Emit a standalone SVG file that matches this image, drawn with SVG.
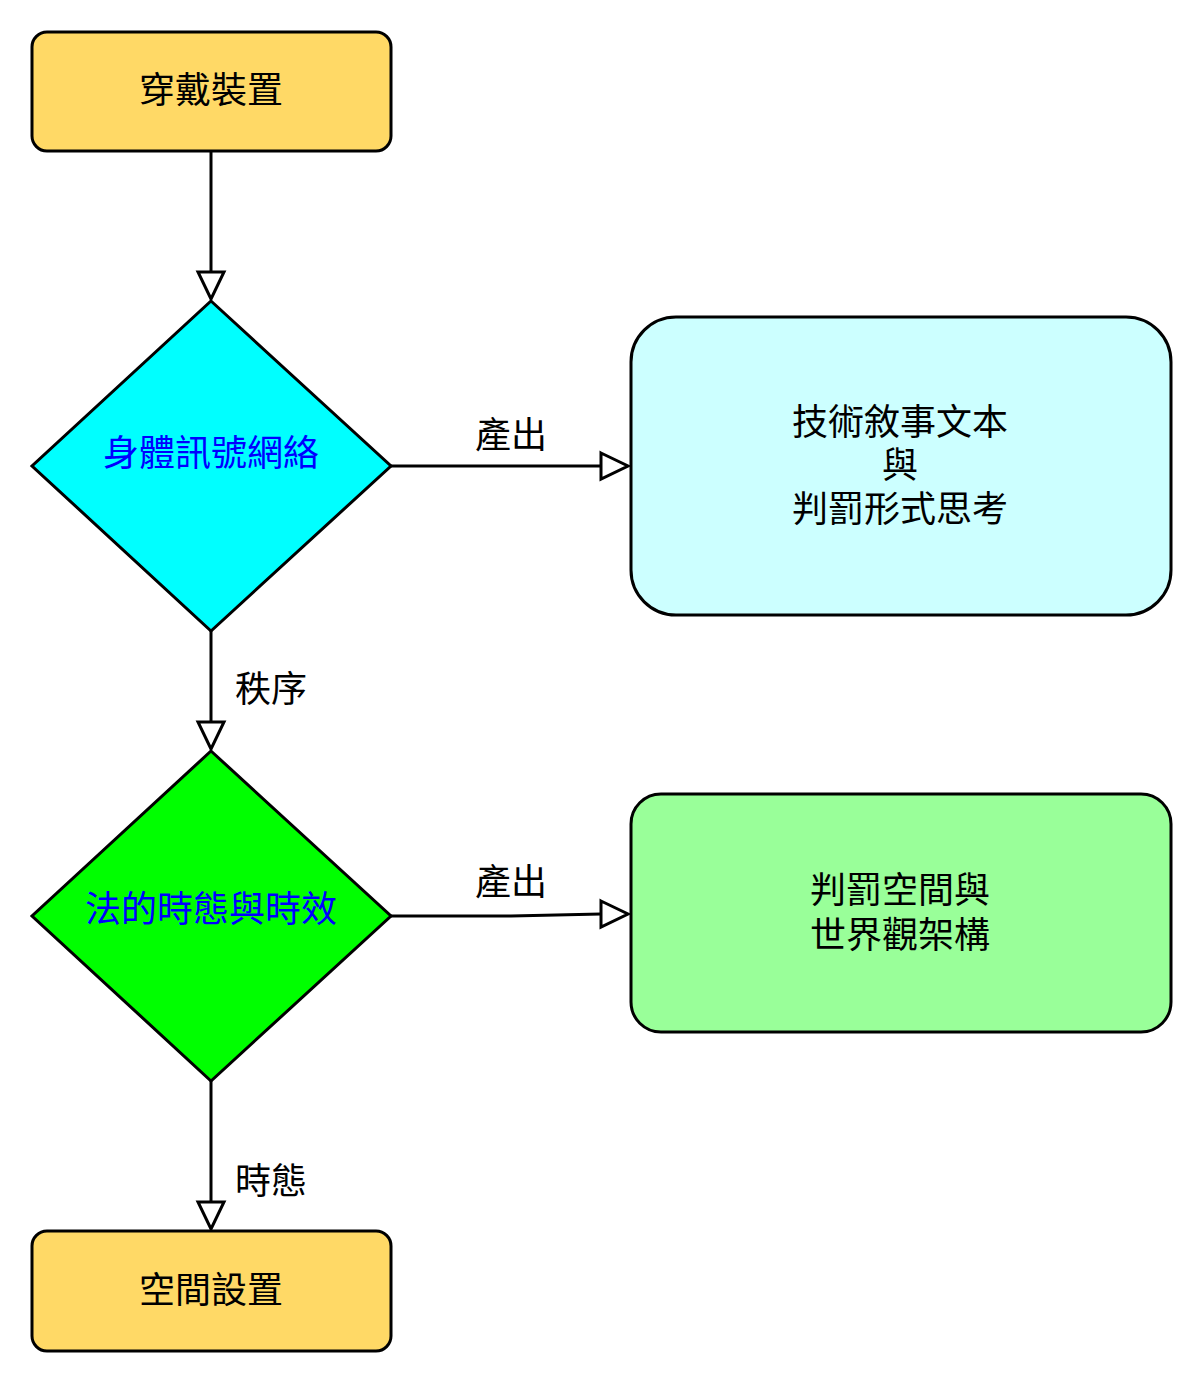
<svg xmlns="http://www.w3.org/2000/svg" width="1203" height="1383" viewBox="0 0 1203 1383">
<style>
text{font-family:"Noto Sans CJK TC","Noto Sans CJK SC",sans-serif;font-size:36px;text-anchor:middle;dominant-baseline:central;fill:#000}
.node{stroke:#000;stroke-width:3}
.dtext{fill:#0000FF}
.edge{fill:none;stroke:#000;stroke-width:3}
.head{fill:#fff;stroke:#000;stroke-width:3;stroke-linejoin:miter}
</style>
<rect width="1203" height="1383" fill="#fff"/>
<g id="edges">
<path class="edge" d="M211,151 V272"/>
<path class="head" d="M198,272 L224,272 L211,299 Z"/>
<path class="edge" d="M391,466 H601"/>
<path class="head" d="M601,453 L628,466 L601,479 Z"/>
<text x="511" y="432">產出</text>
<path class="edge" d="M211,631 V722"/>
<path class="head" d="M198,722 L224,722 L211,749 Z"/>
<text x="271" y="686">秩序</text>
<path class="edge" d="M391,916 H511 L601,914"/>
<path class="head" d="M601,901 L628,914 L601,927 Z"/>
<text x="511" y="879">產出</text>
<path class="edge" d="M211,1081 V1202"/>
<path class="head" d="M198,1202 L224,1202 L211,1229 Z"/>
<text x="271" y="1178">時態</text>
</g>
<g id="n1">
<rect class="node" x="32" y="32" width="359" height="119" rx="15" fill="#FFD966"/>
<text x="211" y="87">穿戴裝置</text>
</g>
<g id="n2">
<path class="node" d="M211,301 L391,466 L211,631 L32,466 Z" fill="#00FFFF"/>
<text class="dtext" x="211" y="450">身體訊號網絡</text>
</g>
<g id="n3">
<rect class="node" x="631" y="317" width="540" height="298" rx="45" fill="#CCFFFF"/>
<text x="900" y="419">技術敘事文本<tspan x="900" dy="43">與</tspan><tspan x="900" dy="44">判罰形式思考</tspan></text>
</g>
<g id="n4">
<path class="node" d="M211,751 L391,916 L211,1081 L32,916 Z" fill="#00FF00"/>
<text class="dtext" x="211" y="906">法的時態與時效</text>
</g>
<g id="n5">
<rect class="node" x="631" y="794" width="540" height="238" rx="30" fill="#99FF99"/>
<text x="900" y="887">判罰空間與<tspan x="900" dy="45">世界觀架構</tspan></text>
</g>
<g id="n6">
<rect class="node" x="32" y="1231" width="359" height="120" rx="15" fill="#FFD966"/>
<text x="211" y="1287">空間設置</text>
</g>
</svg>
